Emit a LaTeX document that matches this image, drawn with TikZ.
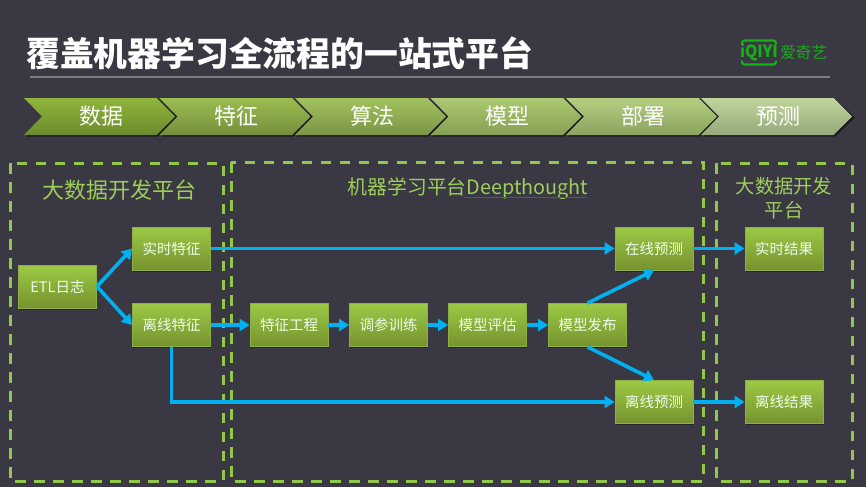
\documentclass[tikz,border=0pt]{standalone}
\usepackage{fontspec}
\setmainfont{Noto Sans CJK SC}
\usetikzlibrary{arrows.meta,shadows}
\definecolor{bgc}{HTML}{3A3842}
\definecolor{dashc}{HTML}{92C847}
\definecolor{linec}{HTML}{00B0F0}
\definecolor{boxtop}{HTML}{9CC945}
\definecolor{boxbot}{HTML}{76922F}
\definecolor{boxedge}{HTML}{8DB042}
\definecolor{logoc}{HTML}{14B014}
\definecolor{ula}{HTML}{A03A40}
\definecolor{rulec}{HTML}{7C7C7C}
\tikzset{
  x=1pt,y=-1pt,
  flowbox/.style={minimum width=78pt,minimum height=43pt,inner sep=0pt,draw=boxedge,line width=.8pt,
    top color=boxtop,bottom color=boxbot,text=white!92!green,font=\fontsize{14.5}{18}\selectfont,
    drop shadow={shadow xshift=.8pt,shadow yshift=-1.5pt,fill=black,opacity=.35}},
  flowline/.style={draw=linec,line width=3.6pt,-{Triangle[length=10pt,width=12pt]}},
  zone/.style={draw=dashc,line width=3pt,dash pattern=on 10.5pt off 8.5pt},
  zonetitle/.style={text=dashc!90!white,inner sep=0pt,align=center},
  steptext/.style={text=white,inner sep=0pt,font=\fontsize{22}{26}\selectfont},
}
\newcommand{\chev}[5]{%
  \definecolor{ctop}{HTML}{#2}\definecolor{cbot}{HTML}{#3}%
  \fill[black,opacity=.55] (#1+2,99) -- (#1+134,99) -- (#1+154,117.5) -- (#1+134,136.5) -- (#1+2,136.5) -- (#1+20,117.5) -- cycle;
  \shade[top color=ctop,bottom color=cbot] (#1,98) -- (#1+132.5,98) -- (#1+151,116.5) -- (#1+132.5,135) -- (#1,135) -- (#1+18,116.5) -- cycle;
  \node[steptext] (#5) at (#1+77,116) {#4};
}
\begin{document}
\begin{tikzpicture}
\useasboundingbox (0,0) rectangle (866,487);
\fill[bgc] (0,0) rectangle (866,487);
% title
\node[anchor=west,inner sep=0pt,text=white,font=\fontsize{33.8}{36}\selectfont\bfseries] (title) at (26,53) {覆盖机器学习全流程的一站式平台};
\draw[draw=rulec,line width=2.5pt] (30,77) -- (830,77);
% logo
\draw[logoc,line width=2.2pt,rounded corners=2.5pt] (742,44.5) -- (742,40.5) -- (776,40.5) -- (776,44.5);
\draw[logoc,line width=2.2pt,rounded corners=2.5pt] (742,60.5) -- (742,64.5) -- (776,64.5) -- (776,60.5);
\node[inner sep=0pt,text=logoc,font=\fontsize{14}{15}\selectfont\bfseries] (logoa) at (759,52.5) {\scalebox{1.12}[1.2]{iQIYI}};
\node[anchor=west,inner sep=0pt,text=logoc,font=\fontsize{15.7}{16}\selectfont] (logob) at (780,52.5) {爱奇艺};
% chevrons
\chev{24}{8FB63C}{6C8A2E}{数据}{sa}
\chev{159.5}{9ABD50}{748F3C}{特征}{sb}
\chev{295}{A2C25E}{7C9545}{算法}{sc}
\chev{430.5}{ACC972}{85A052}{模型}{sd}
\chev{566}{B4CE80}{8BA35F}{部署}{se}
\chev{701}{C0D59C}{95A97A}{预测}{sf}
% zones
\draw[zone] (10.3,163.3) rectangle (223.3,481.3);
\draw[zone] (231.3,162.3) rectangle (703.3,481.3);
\draw[zone] (716.3,163.3) rectangle (852.3,481.3);
\node[zonetitle,font=\fontsize{22}{25}\selectfont] (za) at (119,190) {大数据开发平台};
\node[zonetitle,font=\fontsize{19.8}{23}\selectfont] (zb) at (468,189) {机器学习平台Deepthought};
\draw[ula,line width=.6pt] (464,197.5) -- (587,197.5);
\node[zonetitle,font=\fontsize{19.3}{24}\selectfont] (zc) at (784,198) {大数据开发\\平台};
% boxes
\node[flowbox] (etl) at (57.5,286.5) {ETL日志};
\node[flowbox] (rt) at (171.5,248.5) {实时特征};
\node[flowbox] (off) at (171.5,325) {离线特征};
\node[flowbox] (fe) at (289,325) {特征工程};
\node[flowbox] (tune) at (388.5,325) {调参训练};
\node[flowbox] (ev) at (487.5,325) {模型评估};
\node[flowbox] (pub) at (587.5,325) {模型发布};
\node[flowbox] (onp) at (654,248.5) {在线预测};
\node[flowbox] (ofp) at (654,402) {离线预测};
\node[flowbox] (rr) at (784,248.5) {实时结果};
\node[flowbox] (or) at (784,402) {离线结果};
% connectors
\draw[flowline] (etl.east) -- (rt.west);
\draw[flowline] (etl.east) -- (off.west);
\draw[flowline] (rt.east) -- (onp.west);
\draw[flowline] (off.east) -- (fe.west);
\draw[flowline] (fe.east) -- (tune.west);
\draw[flowline] (tune.east) -- (ev.west);
\draw[flowline] (ev.east) -- (pub.west);
\draw[flowline] (pub.north) -- (onp.south);
\draw[flowline] (pub.south) -- (ofp.north);
\draw[flowline] (off.south) |- (ofp.west);
\draw[flowline] (onp.east) -- (rr.west);
\draw[flowline] (ofp.east) -- (or.west);
\end{tikzpicture}
\end{document}
